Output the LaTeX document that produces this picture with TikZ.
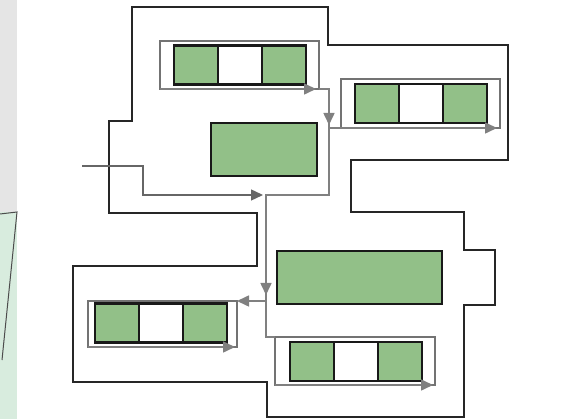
\documentclass[tikz,border=0pt]{standalone}
\usetikzlibrary{arrows.meta, positioning}
\definecolor{cellgreen}{RGB}{146,192,136}
\definecolor{stripgreen}{RGB}{216,236,222}
\tikzset{
  wall/.style={draw=black!85, line width=2.8pt, line join=miter},
  frame/.style={draw=black!55, line width=1.5pt, inner sep=0pt, outer sep=0pt},
  cell/.style={draw=black!90, line width=2.2pt, minimum width=44pt, minimum height=39pt, inner sep=0pt, outer sep=0pt},
  block/.style={draw=black!90, fill=cellgreen, line width=2.2pt, minimum height=53pt, inner sep=0pt},
  flow/.style={draw=black!50, line width=1.6pt},
  feed/.style={draw=black!60, line width=1.4pt}
}
\begin{document}
\begin{tikzpicture}[x=1pt, y=-1pt, >={Triangle[length=12pt,width=11pt]}]
\useasboundingbox (0,0) rectangle (586,419);
% strip at the left edge
\fill [black!10] (0,0) rectangle (17,212);
\fill [stripgreen] (0,212) rectangle (17,419);
\draw [black!70, line width=1pt] (0,214) -- (17,212) -- (2,360);
% outline
\draw [wall] (132,7) -- (328,7) -- (328,45) -- (508,45) -- (508,160) -- (351,160)
  -- (351,212) -- (464,212) -- (464,250) -- (495,250) -- (495,305) -- (464,305)
  -- (464,417) -- (267,417) -- (267,382) -- (73,382) -- (73,266) -- (257,266)
  -- (257,213) -- (109,213) -- (109,121) -- (132,121) -- cycle;
% frames
\node (fa) at (239.5,65) [frame, minimum width=159pt, minimum height=48pt] {};
\node (fb) at (420.5,103.5) [frame, minimum width=159pt, minimum height=49pt] {};
\node (fd) at (162.5,324) [frame, minimum width=149pt, minimum height=46pt] {};
\node (fe) at (355,361) [frame, minimum width=160pt, minimum height=48pt] {};
% cells
\node (a1) at (196,65) [cell, fill=cellgreen] {};
\node (a2) [cell, fill=white, right=0pt of a1] {};
\node (a3) [cell, fill=cellgreen, right=0pt of a2] {};
\node (b1) at (377,103.5) [cell, fill=cellgreen] {};
\node (b2) [cell, fill=white, right=0pt of b1] {};
\node (b3) [cell, fill=cellgreen, right=0pt of b2] {};
\node (d1) at (117,323) [cell, fill=cellgreen] {};
\node (d2) [cell, fill=white, right=0pt of d1] {};
\node (d3) [cell, fill=cellgreen, right=0pt of d2] {};
\node (e1) at (312,361.5) [cell, fill=cellgreen] {};
\node (e2) [cell, fill=white, right=0pt of e1] {};
\node (e3) [cell, fill=cellgreen, right=0pt of e2] {};
% big blocks
\node (c) at (264,149.5) [block, minimum width=106pt] {};
\node (f) at (359.5,277.5) [block, minimum width=165pt] {};
% flow
\coordinate (in) at (82,166);
\coordinate (j1) at (266,195);
\coordinate (j2) at (329,89);
\coordinate (j3) at (266,301);
\draw [feed, ->] (in) -- (143,166) -- (143,195) -- ([xshift=-3pt]j1);
\draw [flow] (fa.south east) -- (j2) -- (329,195) -- (j1) -- (266,337) -- (fe.north west);
\draw [flow, ->] (j2) -- (329,125);
\draw [flow] (329,128) -- (fb.south west);
\draw [flow, ->] (j1) -- (266,295);
\draw [flow, ->] (j3) -- (fd.north east);
\draw [flow, ->] (fa.south west) -- ([xshift=-3pt]fa.south east);
\draw [flow, ->] (fb.south west) -- ([xshift=-3pt]fb.south east);
\draw [flow, ->] (fd.south west) -- ([xshift=-2pt]fd.south east);
\draw [flow, ->] (fe.south west) -- ([xshift=-2pt]fe.south east);
\end{tikzpicture}
\end{document}
